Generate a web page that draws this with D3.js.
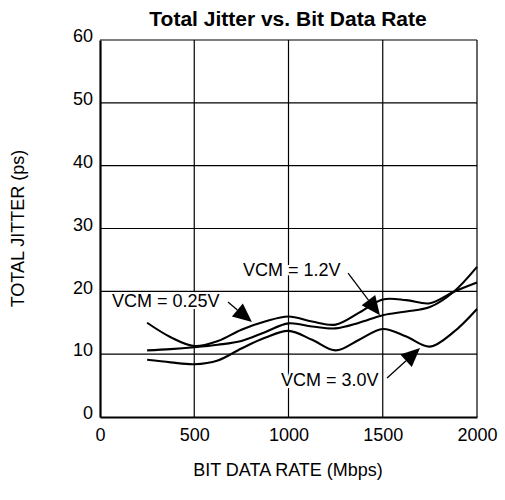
<!DOCTYPE html>
<html><head><meta charset="utf-8">
<script src="https://cdn.jsdelivr.net/npm/d3@7"></script>
<style>
html,body{margin:0;padding:0;background:#fff;}
text{font-family:"Liberation Sans",Arial,Helvetica,sans-serif;fill:#000;}
</style></head>
<body><svg id="c" width="505" height="500"></svg>
<script>
const xTicks = [0, 500, 1000, 1500, 2000];
const yTicks = [0, 10, 20, 30, 40, 50, 60];
const rates = [250, 375, 500, 625, 750, 875, 1000, 1125, 1250, 1375, 1500, 1625, 1750, 1875, 2000];
const seriesA = [15.0, 12.7, 11.3, 12.1, 13.9, 15.2, 16.0, 15.2, 14.7, 16.6, 18.7, 18.6, 18.1, 19.9, 21.4];
const seriesB = [10.6, 10.8, 11.1, 11.5, 12.1, 13.5, 14.9, 14.4, 14.1, 15.0, 16.2, 16.8, 17.5, 19.9, 23.9];
const seriesC = [9.1, 8.7, 8.4, 9.0, 10.9, 12.6, 13.7, 12.3, 10.6, 12.3, 14.0, 12.8, 11.2, 13.5, 17.2];
const labels = ["VCM = 0.25V", "VCM = 1.2V", "VCM = 3.0V"];
const labelX = [64, 759, 960];
const labelY = [17.5, 22.4, 4.9];
const arrowFromX = [679, 1316, 1523];
const arrowFromY = [18.3, 22.9, 6.2];
const arrowToX = [806, 1485, 1698];
const arrowToY = [15.1, 16.2, 11.0];

const svg = d3.select("#c");
const m = {l:100, r:28, t:40, b:83};
const W = 505, H = 500;
const x = d3.scaleLinear().domain([0, 2000]).range([m.l, W - m.r]);
const y = d3.scaleLinear().domain([0, 60]).range([H - m.b, m.t]);

svg.append("rect").attr("width", W).attr("height", H).attr("fill", "#fff");

// grid
const g = svg.append("g");
g.selectAll("line.h").data(yTicks.slice(1)).join("line")
  .attr("x1", x(0)).attr("x2", x(2000)).attr("y1", d => y(d)).attr("y2", d => y(d))
  .attr("stroke", "#000").attr("stroke-width", 1.2);
g.selectAll("line.v").data(xTicks.slice(1)).join("line")
  .attr("y1", y(0)).attr("y2", y(60)).attr("x1", d => x(d)).attr("x2", d => x(d))
  .attr("stroke", "#000").attr("stroke-width", 1.2);

// axes
const xa = svg.append("g").attr("transform", `translate(0,${y(0)})`)
  .call(d3.axisBottom(x).tickValues(xTicks).tickFormat(d3.format("d")).tickSize(0).tickPadding(11));
xa.select(".domain").attr("stroke", "#000").attr("stroke-width", 2.2);
xa.selectAll("text").attr("font-size", 18).attr("fill", "#000");
const ya = svg.append("g").attr("transform", `translate(${x(0)},0)`)
  .call(d3.axisLeft(y).tickValues(yTicks).tickFormat(d3.format("d")).tickSize(0).tickPadding(7));
ya.select(".domain").attr("stroke", "#000").attr("stroke-width", 2.2);
ya.selectAll("text").attr("font-size", 18).attr("fill", "#000").attr("dy", "0.1em");

// curves
const line = d3.line().x((d, i) => x(rates[i])).y(d => y(d)).curve(d3.curveCatmullRom.alpha(0.5));
[seriesA, seriesB, seriesC].forEach(s => {
  svg.append("path").attr("d", line(s)).attr("fill", "none")
    .attr("stroke", "#000").attr("stroke-width", 2.1);
});

// annotations
labels.forEach((t, i) => {
  svg.append("text").attr("x", x(labelX[i])).attr("y", y(labelY[i]))
    .attr("font-size", 18).attr("stroke", "#fff").attr("stroke-width", 4)
    .attr("paint-order", "stroke").text(t);
  const x1 = x(arrowFromX[i]), y1 = y(arrowFromY[i]);
  const x2 = x(arrowToX[i]), y2 = y(arrowToY[i]);
  const ang = Math.atan2(y2 - y1, x2 - x1);
  const hl = 19, hw = 8.5;
  const bx = x2 - hl * Math.cos(ang), by = y2 - hl * Math.sin(ang);
  svg.append("line").attr("x1", x1).attr("y1", y1).attr("x2", bx).attr("y2", by)
    .attr("stroke", "#000").attr("stroke-width", 1.3);
  const px = -Math.sin(ang), py = Math.cos(ang);
  svg.append("path")
    .attr("d", `M${x2},${y2}L${bx + px*hw},${by + py*hw}L${bx - px*hw},${by - py*hw}Z`)
    .attr("fill", "#000");
});

// titles
svg.append("text").attr("x", 288).attr("y", 26).attr("text-anchor", "middle")
  .attr("font-size", 21).attr("font-weight", "bold").text("Total Jitter vs. Bit Data Rate");
svg.append("text").attr("x", 288).attr("y", 476).attr("text-anchor", "middle")
  .attr("font-size", 18).text("BIT DATA RATE (Mbps)");
svg.append("text").attr("transform", `translate(24,${y(30)}) rotate(-90)`)
  .attr("text-anchor", "middle").attr("font-size", 18).text("TOTAL JITTER (ps)");
</script></body></html>
